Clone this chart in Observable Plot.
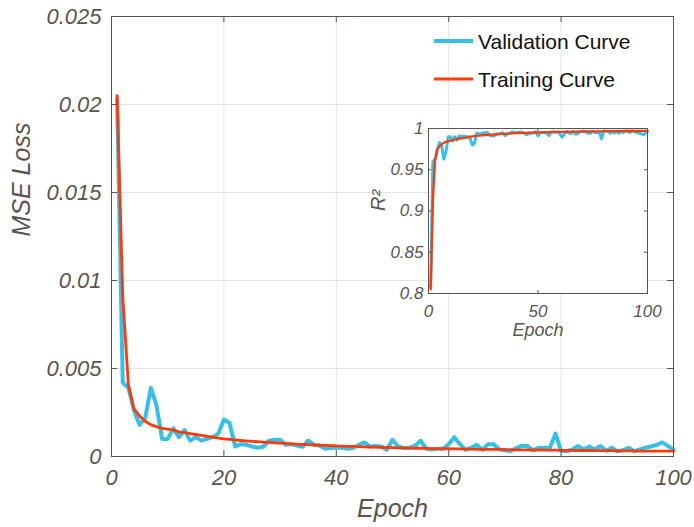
<!DOCTYPE html>
<html><head><meta charset="utf-8">
<script src="https://cdn.jsdelivr.net/npm/d3@7"></script>
<script src="https://cdn.jsdelivr.net/npm/@observablehq/plot@0.6"></script>
<style>
body{margin:0;background:#fff;}
#wrap{position:relative;width:694px;height:527px;font-family:"Liberation Sans",Arial,sans-serif;}
#inset{position:absolute;left:350px;top:110px;}
#legend{position:absolute;left:0;top:0;pointer-events:none;}
</style></head><body>
<div id="wrap"><div id="main"></div><div id="inset"></div><svg id="legend" width="694" height="527"></svg></div>
<script>
// ---- data ----
const seriesNames = ["Validation Curve", "Training Curve"];
const epochs = d3.range(1, 101);
const xTicks = [0, 20, 40, 60, 80, 100];
const yTicks = [0, 0.005, 0.01, 0.015, 0.02, 0.025];
const insetXTicks = [0, 50, 100];
const insetYTicks = [0.8, 0.85, 0.9, 0.95, 1];

const valMSE = [
 0.0203,0.0042,0.0039,0.0026,0.0018,0.0022,0.0039,0.0029,0.0010,0.0010,
 0.0016,0.0011,0.0015,0.0009,0.0011,0.0009,0.0010,0.0011,0.0013,0.0021,
 0.0019,0.00057,0.0007,0.00066,0.00057,0.0005,0.00055,0.0009,0.00095,0.00095,
 0.00066,0.0007,0.00062,0.00055,0.0009,0.00066,0.00062,0.00044,0.00048,0.0005,
 0.0005,0.00044,0.00048,0.00066,0.0008,0.00057,0.0006,0.00057,0.00038,0.00095,
 0.00057,0.00048,0.0005,0.0006,0.0009,0.00044,0.0004,0.00044,0.00044,0.0007,
 0.0011,0.0007,0.00038,0.0005,0.00066,0.00038,0.0007,0.0007,0.0004,0.00035,
 0.0003,0.00048,0.0006,0.0006,0.00035,0.0005,0.00048,0.0005,0.0013,0.00032,
 0.0003,0.0004,0.0006,0.0004,0.00057,0.0004,0.0006,0.00032,0.0005,0.0003,
 0.00035,0.0005,0.0003,0.0004,0.0005,0.00057,0.00066,0.0008,0.0006,0.00038
];
const trainMSE = [
 0.0205,0.0091,0.0041,0.0027,0.0023,0.0020,0.0018,0.0017,0.0016,0.00155,
 0.0015,0.0014,0.00135,0.0013,0.00125,0.0012,0.00115,0.0011,0.00105,0.0010,
 0.00097,0.00094,0.00091,0.00088,0.00086,0.00084,0.00082,0.0008,0.00078,0.00076,
 0.00074,0.00072,0.0007,0.00069,0.00067,0.00066,0.00064,0.00063,0.00062,0.0006,
 0.00059,0.00058,0.00057,0.00056,0.00055,0.00054,0.00053,0.00052,0.00051,0.0005,
 0.00049,0.00049,0.00048,0.00047,0.00047,0.00046,0.00045,0.00045,0.00044,0.00044,
 0.00043,0.00043,0.00042,0.00042,0.00041,0.00041,0.0004,0.0004,0.0004,0.00039,
 0.00039,0.00038,0.00038,0.00038,0.00037,0.00037,0.00036,0.00036,0.00036,0.00035,
 0.00035,0.00035,0.00034,0.00034,0.00034,0.00033,0.00033,0.00033,0.00033,0.00032,
 0.00032,0.00032,0.00032,0.00031,0.00031,0.00031,0.00031,0.0003,0.0003,0.0003
];
const valR2 = [
 0.807,0.960,0.963,0.975,0.983,0.979,0.963,0.972,0.990,0.990,
 0.985,0.990,0.986,0.991,0.990,0.991,0.990,0.990,0.988,0.980,
 0.982,0.9946,0.9933,0.9937,0.9946,0.9952,0.9948,0.9914,0.991,0.991,
 0.9937,0.9933,0.9941,0.9948,0.9914,0.9937,0.9941,0.9958,0.9954,0.9952,
 0.9952,0.9958,0.9954,0.9937,0.9924,0.9946,0.9943,0.9946,0.9964,0.991,
 0.9946,0.9954,0.9952,0.9943,0.9914,0.9958,0.9962,0.9958,0.9958,0.9933,
 0.9895,0.9933,0.9964,0.9952,0.9937,0.9964,0.9933,0.9933,0.9962,0.9967,
 0.9971,0.9954,0.9943,0.9943,0.9967,0.9952,0.9954,0.9952,0.9876,0.997,
 0.9971,0.9962,0.9943,0.9962,0.9946,0.9962,0.9943,0.997,0.9952,0.9971,
 0.9967,0.9952,0.9971,0.9962,0.9952,0.9946,0.9937,0.9924,0.9943,0.9964
];
const trainR2 = [
 0.805,0.9133,0.961,0.9743,0.9781,0.981,0.9829,0.9838,0.9848,0.9852,
 0.9857,0.9867,0.9871,0.9876,0.9881,0.9886,0.989,0.9895,0.99,0.9905,
 0.9908,0.991,0.9913,0.9916,0.9918,0.992,0.9922,0.9924,0.9926,0.9928,
 0.993,0.9931,0.9933,0.9934,0.9936,0.9937,0.9939,0.994,0.9941,0.9943,
 0.9944,0.9945,0.9946,0.9947,0.9948,0.9949,0.995,0.995,0.9951,0.9952,
 0.9953,0.9953,0.9954,0.9955,0.9955,0.9956,0.9957,0.9957,0.9958,0.9958,
 0.9959,0.9959,0.996,0.996,0.9961,0.9961,0.9962,0.9962,0.9962,0.9963,
 0.9963,0.9964,0.9964,0.9964,0.9965,0.9965,0.9966,0.9966,0.9966,0.9967,
 0.9967,0.9967,0.9968,0.9968,0.9968,0.9969,0.9969,0.9969,0.9969,0.997,
 0.997,0.997,0.997,0.997,0.997,0.997,0.997,0.9971,0.9971,0.9971
];

// ---- styles ----
const valColor = "#38bfe8";
const trainColor = "#ff3a0a";
const axisColor = "#5a5550";
const gridColor = "#e4e4e4";
const fontFamily = "'Liberation Sans', Arial, sans-serif";

const valData = epochs.map((e, i) => ({epoch: e, v: valMSE[i]}));
const trainData = epochs.map((e, i) => ({epoch: e, v: trainMSE[i]}));
const valR2Data = epochs.map((e, i) => ({epoch: e, v: valR2[i]}));
const trainR2Data = epochs.map((e, i) => ({epoch: e, v: trainR2[i]}));

// main chart geometry
const W = 694, H = 527, mL = 111, mR = 21, mT = 16, mB = 71;
const fw = W - mL - mR, fh = H - mT - mB, tk = 6;

const main = Plot.plot({
  width: W, height: H, marginLeft: mL, marginRight: mR, marginTop: mT, marginBottom: mB,
  style: {fontFamily, fontStyle: "italic", color: axisColor, background: "white", overflow: "visible"},
  x: {domain: [0, 100], label: null},
  y: {domain: [0, 0.025], label: null},
  marks: [
    Plot.ruleX(xTicks, {stroke: gridColor}),
    Plot.ruleY(yTicks, {stroke: gridColor}),
    Plot.line(valData, {x: "epoch", y: "v", stroke: valColor, strokeWidth: 4}),
    Plot.line(trainData, {x: "epoch", y: "v", stroke: trainColor, strokeWidth: 2.8}),
    Plot.frame({stroke: axisColor}),
    Plot.ruleX(xTicks, {stroke: axisColor, insetTop: fh - tk}),
    Plot.ruleX(xTicks, {stroke: axisColor, insetBottom: fh - tk}),
    Plot.ruleY(yTicks, {stroke: axisColor, insetRight: fw - tk}),
    Plot.ruleY(yTicks, {stroke: axisColor, insetLeft: fw - tk}),
    Plot.axisX(xTicks, {tickSize: 0, tickPadding: 13, fontSize: 22, label: null}),
    Plot.axisY(yTicks, {tickSize: 0, tickPadding: 10, fontSize: 22, tickFormat: d => String(d), label: null}),
    Plot.text(["Epoch"], {text: d => d, frameAnchor: "bottom", dy: 60, fontSize: 25}),
    Plot.text(["MSE Loss"], {text: d => d, frameAnchor: "left", dx: -90, rotate: -90, fontSize: 25})
  ]
});
document.getElementById("main").appendChild(main);

// inset geometry
const iW = 310, iH = 240, iL = 78, iR = 13, iT = 18, iB = 57;
const ifw = iW - iL - iR, ifh = iH - iT - iB, itk = 3;
const inset = Plot.plot({
  width: iW, height: iH, marginLeft: iL, marginRight: iR, marginTop: iT, marginBottom: iB,
  style: {fontFamily, fontStyle: "italic", color: axisColor, background: "transparent", overflow: "visible"},
  x: {domain: [0, 100], label: null},
  y: {domain: [0.8, 1], label: null},
  marks: [
    Plot.frame({fill: "white"}),
    Plot.line(valR2Data, {x: "epoch", y: "v", stroke: valColor, strokeWidth: 3}),
    Plot.line(trainR2Data, {x: "epoch", y: "v", stroke: trainColor, strokeWidth: 2.3}),
    Plot.frame({stroke: axisColor}),
    Plot.ruleX(insetXTicks, {stroke: axisColor, insetTop: ifh - itk}),
    Plot.ruleX(insetXTicks, {stroke: axisColor, insetBottom: ifh - itk}),
    Plot.ruleY(insetYTicks, {stroke: axisColor, insetRight: ifw - itk}),
    Plot.ruleY(insetYTicks, {stroke: axisColor, insetLeft: ifw - itk}),
    Plot.axisX(insetXTicks, {tickSize: 0, tickPadding: 11, fontSize: 17, label: null}),
    Plot.axisY(insetYTicks, {tickSize: 0, tickPadding: 5, fontSize: 17, tickFormat: d => String(d), label: null}),
    Plot.text(["Epoch"], {text: d => d, frameAnchor: "bottom", dy: 42, fontSize: 18}),
    Plot.text(["R²"], {text: d => d, frameAnchor: "left", dx: -50, rotate: -90, fontSize: 20})
  ]
});
document.getElementById("inset").appendChild(inset);

// legend
const legend = d3.select("#legend");
const legendItems = [
  {name: seriesNames[0], color: valColor, w: 4, y: 41},
  {name: seriesNames[1], color: trainColor, w: 3, y: 79}
];
legendItems.forEach(it => {
  legend.append("line").attr("x1", 434).attr("x2", 473).attr("y1", it.y).attr("y2", it.y)
    .attr("stroke", it.color).attr("stroke-width", it.w);
  legend.append("text").attr("x", 478).attr("y", it.y + 8).attr("font-size", 21)
    .attr("font-family", fontFamily).attr("fill", "#111").text(it.name);
});
</script>
</body></html>
